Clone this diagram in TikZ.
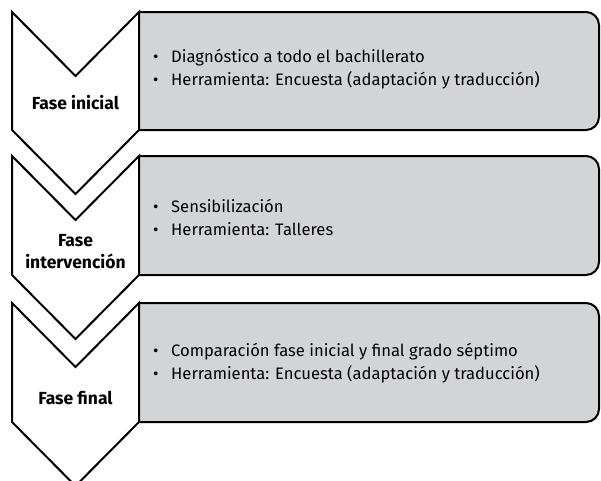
\documentclass[tikz,border=0pt]{standalone}
\usepackage{fontspec}
\setmainfont{Fira Sans}
\definecolor{boxgray}{RGB}{211,212,214}
\newcommand\bul{\makebox[18pt][l]{•}}
\begin{document}
\begin{tikzpicture}[x=1pt,y=-1pt,
  shapeline/.style={draw=black,line width=2pt,line join=miter},
  lbl/.style={font=\fontsize{17.5}{22}\selectfont\bfseries,align=center,inner sep=0pt},
  txt/.style={font=\fontsize{16.6}{23}\selectfont,align=left,anchor=west,inner sep=0pt}]
\useasboundingbox (0,0) rectangle (601,480);
\foreach \T/\B in {12/130,156/275,303/422}{
  \draw[shapeline,fill=white] (12,\T) -- (75.5,\T+64) -- (139,\T) -- (139,\B) -- (75.5,\B+64) -- (12,\B) -- cycle;
  \draw[shapeline,fill=boxgray] (139,\T) -- (586,\T) arc[start angle=-90,end angle=0,radius=13] -- (599,\B-13) arc[start angle=0,end angle=90,radius=13] -- (139,\B) -- cycle;
}
\node[lbl] (c1) at (75.5,103) {Fase inicial};
\node[lbl] (c2) at (75.5,252) {Fase\\intervención};
\node[lbl] (c3) at (75.5,398) {Fase final};
\node[txt] (t1) at (153,69) {\bul Diagnóstico a todo el bachillerato\\\bul Herramienta: Encuesta (adaptación y traducción)};
\node[txt] (t2) at (153,217) {\bul Sensibilización\\\bul Herramienta: Talleres};
\node[txt] (t3) at (153,363) {\bul Comparación fase inicial y final grado séptimo\\\bul Herramienta: Encuesta (adaptación y traducción)};
\end{tikzpicture}
\end{document}
